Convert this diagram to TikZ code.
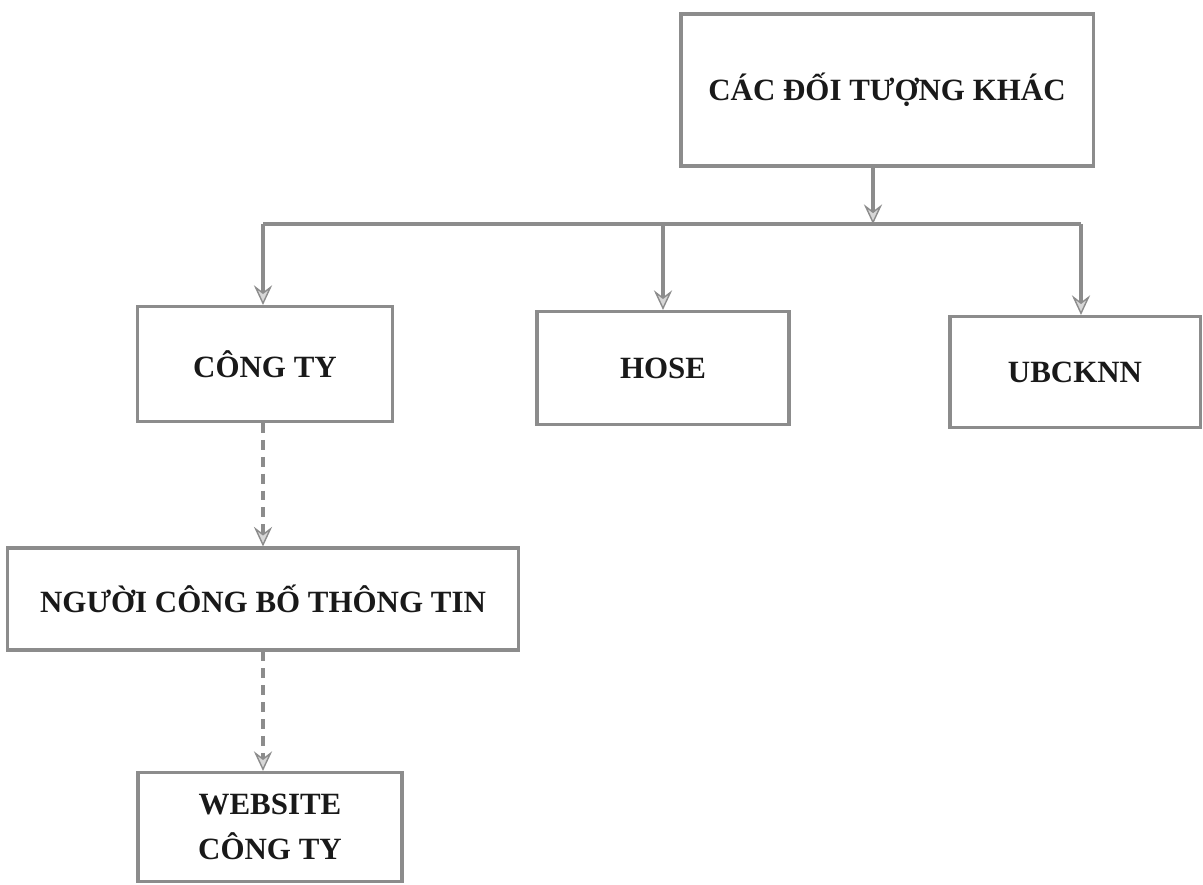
\documentclass[tikz,border=0pt]{standalone}
\usepackage{fontspec}
\setmainfont{Liberation Serif}
\usetikzlibrary{arrows.meta}
\definecolor{linegray}{gray}{0.55}
\definecolor{ink}{gray}{0.1}

\begin{document}
\begin{tikzpicture}[x=0.025cm, y=-0.025cm,
		box/.style={rectangle, draw=linegray, line width=2.2pt, inner sep=0pt, text=ink, align=center,
			font=\fontsize{22}{32}\selectfont\bfseries},
		link/.style={draw=linegray, line width=2.2pt},
		flow/.style={link, -{Stealth[length=14pt, width=13pt, inset=5pt, fill=linegray!35, line width=1pt]}},
		dash line/.style={dash pattern=on 7pt off 5pt}]
	\useasboundingbox (0,0) rectangle (1203,884);
	\node[box, minimum width=10.3cm, minimum height=3.8cm] (top) at (887, 90) {CÁC ĐỐI TƯỢNG KHÁC};
	\node[box, minimum width=6.375cm, minimum height=2.875cm] (cty) at (265, 364) {CÔNG TY};
	\node[box, minimum width=6.3cm, minimum height=2.825cm] (hose) at (663, 368) {HOSE};
	\node[box, minimum width=6.25cm, minimum height=2.775cm] (ubck) at (1075, 372) {UBCKNN};
	\node[box, minimum width=12.75cm, minimum height=2.55cm] (ngu) at (263, 599) {NGƯỜI CÔNG BỐ THÔNG TIN};
	\node[box, minimum width=6.6cm, minimum height=2.725cm] (web) at (270, 827) {WEBSITE\\CÔNG TY};
	\coordinate (bm) at (873, 224);
	\coordinate (bl) at (263, 224);
	\coordinate (br) at (1081, 224);
	\draw[flow] (top.south -| bm) -- (bm);
	\draw[link] (bl) -- (br);
	\draw[flow] (bl) -- (bl |- cty.north);
	\draw[flow] (hose.north |- bl) -- (hose.north);
	\draw[flow] (br) -- (br |- ubck.north);
	\draw[flow, dash line] (cty.south -| bl) -- (bl |- ngu.north);
	\draw[flow, dash line] (ngu.south -| bl) -- (bl |- web.north);
\end{tikzpicture}
\end{document}
